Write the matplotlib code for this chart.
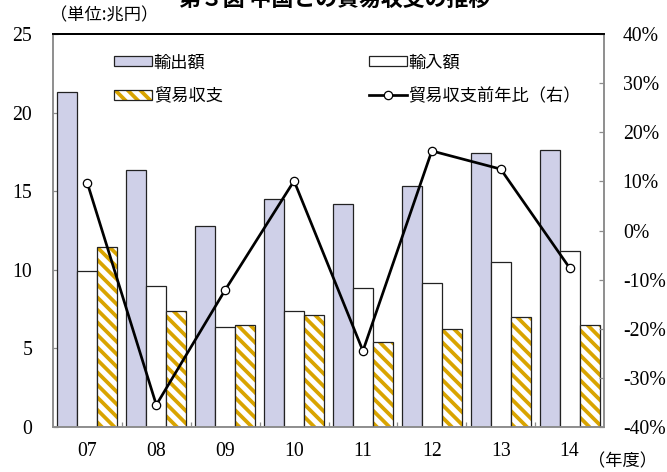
import matplotlib
matplotlib.use("Agg")
import matplotlib.pyplot as plt
from matplotlib.patches import Patch
from matplotlib.lines import Line2D
from matplotlib.legend_handler import HandlerTuple
import numpy as np

years = ["07", "08", "09", "10", "11", "12", "13", "14"]
exports = [21.3, 16.35, 12.8, 14.5, 14.2, 15.35, 17.45, 17.65]
imports = [9.9, 9.0, 6.35, 7.4, 8.85, 9.15, 10.5, 11.2]
balance = [11.45, 7.4, 6.5, 7.15, 5.4, 6.25, 7.0, 6.5]
balance_yoy = [9.6, -35.5, -12.1, 10.1, -24.5, 16.2, 12.5, -7.6]

DPI = 75
W, H = 667, 472
plt.rcParams['font.family'] = ['Liberation Serif', 'Noto Sans CJK JP', 'DejaVu Sans']
plt.rcParams['hatch.linewidth'] = 3.6

fig = plt.figure(figsize=(W / DPI, H / DPI), dpi=DPI)
L, R, T, B = 53, 604, 34, 427
ax = fig.add_axes([L / W, 1 - B / H, (R - L) / W, (B - T) / H])
ax2 = ax.twinx()

x = np.arange(len(years))
bw = 0.29
gold = '#D9A400'
edge = '#222222'
lav = '#CFD0E8'
HATCH = '\\\\'

ax.bar(x - bw, exports, bw, color=lav, edgecolor=edge, linewidth=1.2, zorder=2)
ax.bar(x, imports, bw, color='white', edgecolor=edge, linewidth=1.2, zorder=2)
ax.bar(x + bw, balance, bw, color='white', edgecolor=gold, linewidth=0, hatch=HATCH, zorder=2)
ax.bar(x + bw, balance, bw, fill=False, edgecolor=edge, linewidth=1.2, zorder=3)

ax2.plot(x, balance_yoy, color='black', lw=2.6, marker='o', ms=8,
         mfc='white', mec='black', mew=1.2, zorder=5)

ax.set_xlim(-0.5, len(years) - 0.5)
ax.set_ylim(0, 25)
ax2.set_ylim(-40, 40)

ax.set_yticks([0, 5, 10, 15, 20, 25])
ax.set_yticklabels(["0", "5", "10", "15", "20", "25"])
ax2.set_yticks([-40, -30, -20, -10, 0, 10, 20, 30, 40])
ax2.set_yticklabels(["-40%", "-30%", "-20%", "-10%", "0%", "10%", "20%", "30%", "40%"])
ax.set_xticks(x)
ax.set_xticklabels(years)
ax.set_xticks(x[:-1] + 0.5, minor=True)

gray = '#8C8C8C'
ax.tick_params(axis='x', which='major', length=0, pad=14, labelsize=19)
ax.tick_params(axis='x', which='minor', direction='in', length=5, color=gray, width=1.2)
ax.tick_params(axis='y', direction='in', length=5, color=gray, width=1.2, pad=20, labelsize=19)
ax2.tick_params(axis='y', direction='in', length=5, color=gray, width=1.2, pad=18, labelsize=19)

for a in (ax, ax2):
    for s in ['left', 'right', 'bottom']:
        a.spines[s].set_color(gray)
        a.spines[s].set_linewidth(1.5)
    a.spines['top'].set_color('black')
    a.spines['top'].set_linewidth(1.8)
ax.set_zorder(ax2.get_zorder() - 1)
ax2.patch.set_visible(False)
ax.patch.set_visible(True)

h_exp = Patch(facecolor=lav, edgecolor=edge, linewidth=1.2)
h_imp = Patch(facecolor='white', edgecolor=edge, linewidth=1.2)
h_bal = (Patch(facecolor='white', edgecolor=gold, linewidth=0, hatch=HATCH),
         Patch(fill=False, edgecolor=edge, linewidth=1.2))
h_line = Line2D([], [], color='black', lw=2.6, marker='o', ms=8, mfc='white', mec='black', mew=1.2)

leg = ax2.legend([h_exp, h_bal, h_imp, h_line],
                 ["輸出額", "貿易収支", "輸入額", "貿易収支前年比（右）"],
                 ncol=2, loc='upper left', bbox_to_anchor=(0.083, 0.99),
                 frameon=False, handlelength=2.2, handleheight=0.5,
                 handletextpad=0.1, columnspacing=8.5, labelspacing=0.9,
                 handler_map={tuple: HandlerTuple(ndivide=1, pad=0)},
                 prop={'family': ['Noto Sans CJK JP'], 'size': 16.5})

fig.text(50 / W, 1 - 15 / H, "（単位:兆円）", fontsize=16.5, ha='left', va='center',
         family=['Noto Sans CJK JP'])
fig.text(588 / W, 1 - 461 / H, "（年度）", fontsize=16.5, ha='left', va='center',
         family=['Noto Sans CJK JP'])
fig.text(335 / W, 1 - 0 / H, "第３図 中国との貿易収支の推移", fontsize=21, ha='center',
         va='center', weight='bold', family=['Noto Sans CJK JP'])

fig.savefig("out.png", dpi=DPI)
